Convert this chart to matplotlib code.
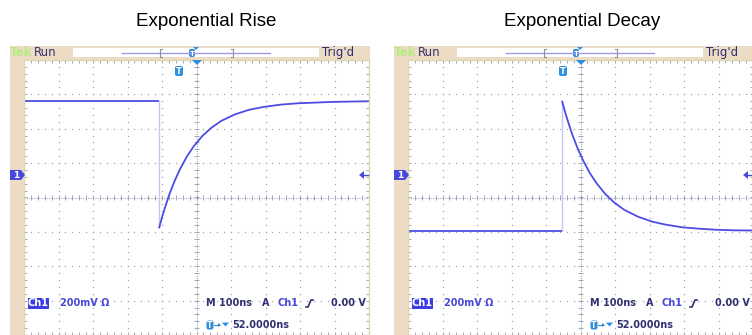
import numpy as np
import matplotlib
matplotlib.use("Agg")
import matplotlib.pyplot as plt
from matplotlib.patches import Rectangle, Polygon, FancyBboxPatch

W, H = 752, 335

titles = ["Exponential Rise", "Exponential Decay"]

# traces in screen divisions (x: -5..5, y: -4..4)
rise_pre_t = [-5.0, -1.08]
rise_pre_v = [2.80, 2.80]
rise_t = [-1.08, -0.98, -0.88, -0.78, -0.63, -0.48, -0.28, -0.08, 0.17, 0.42,
          0.72, 1.12, 1.52, 1.92, 2.42, 2.92, 3.42, 3.92, 4.42, 5.0]
rise_v = [-0.87, -0.51, -0.19, 0.11, 0.49, 0.82, 1.19, 1.49, 1.79, 2.02,
          2.23, 2.42, 2.55, 2.63, 2.70, 2.74, 2.76, 2.78, 2.79, 2.80]

decay_pre_t = [-5.0, -0.53]
decay_pre_v = [-0.98, -0.98]
decay_t = [-0.53, -0.43, -0.33, -0.23, -0.08, 0.07, 0.27, 0.47, 0.72, 0.97,
           1.27, 1.67, 2.07, 2.47, 2.97, 3.47, 3.97, 4.47, 5.0]
decay_v = [2.79, 2.43, 2.11, 1.81, 1.42, 1.09, 0.71, 0.41, 0.10, -0.14,
           -0.36, -0.56, -0.70, -0.79, -0.87, -0.91, -0.94, -0.955, -0.96]

traces = [(rise_pre_t, rise_pre_v, rise_t, rise_v),
          (decay_pre_t, decay_pre_v, decay_t, decay_v)]
title_x = [206, 582]

TAN = '#ecdcc6'
NAVY = '#303070'
BLUE = '#4848dc'
LBLUE = '#2f8fdf'
TRACE = '#4d4de6'
GRID = '#a4a4b8'

fig = plt.figure(figsize=(W / 100, H / 100), dpi=100)

bg = fig.add_axes([0, 0, 1, 1], zorder=0)
bg.set_xlim(0, W)
bg.set_ylim(H, 0)
bg.axis('off')

fg = fig.add_axes([0, 0, 1, 1], zorder=3)
fg.set_xlim(0, W)
fg.set_ylim(H, 0)
fg.axis('off')
fg.patch.set_alpha(0)


def t_icon(x, y, w=8, h=10, fs=6):
    fg.add_patch(FancyBboxPatch((x - w / 2, y - h / 2), w, h,
                                boxstyle="round,pad=0,rounding_size=2",
                                fc=LBLUE, ec='none'))
    fg.text(x, y + 0.5, "T", color='white', fontsize=fs, fontweight='bold',
            ha='center', va='center')


def graticule(ax):
    minor = np.arange(-5, 5.01, 0.2)
    minor_y = np.arange(-4, 4.01, 0.2)
    for gx in range(-4, 5):
        if gx == 0:
            continue
        ax.plot([gx] * len(minor_y), minor_y, ls='none', marker='s', ms=0.9,
                mec='none', mfc=GRID)
    for gy in range(-3, 4):
        if gy == 0:
            continue
        ax.plot(minor, [gy] * len(minor), ls='none', marker='s', ms=0.9,
                mec='none', mfc=GRID)
    ax.axhline(0, color=GRID, lw=0.8, ls=(0, (1, 1.2)))
    ax.axvline(0, color=GRID, lw=0.8, ls=(0, (1, 1.2)))
    ax.vlines(minor, -0.08, 0.08, color=GRID, lw=0.7)
    ax.hlines(minor_y, -0.08, 0.08, color=GRID, lw=0.7)
    ax.vlines(minor, 3.9, 4.0, color=GRID, lw=0.7)
    ax.vlines(minor, -4.0, -3.9, color=GRID, lw=0.7)
    ax.hlines(minor_y, -5.0, -4.9, color=GRID, lw=0.7)
    ax.hlines(minor_y, 4.9, 5.0, color=GRID, lw=0.7)


for i, (pre_t, pre_v, t, v) in enumerate(traces):
    ox = i * 384
    right = 370 if i == 0 else W

    # frame
    bg.add_patch(Rectangle((ox + 10, 46), right - ox - 10, 14, fc=TAN, ec='none'))
    bg.add_patch(Rectangle((ox + 10, 46), 14, H - 46, fc=TAN, ec='none'))
    bg.add_patch(Rectangle((ox + 73, 47.5), 246, 9.5, fc='white', ec='none'))
    if i == 0:
        bg.add_patch(Rectangle((368, 60), 2, H - 60, fc='#d8d0c4', ec='none'))

    fg.text(title_x[i], 21, titles[i],
            fontsize=13.5, family='Liberation Sans', ha='center', va='center')

    # plot area
    ax = fig.add_axes([(ox + 24) / W, 0, 345 / W, 275 / H], zorder=1)
    ax.set_xlim(-5, 5)
    ax.set_ylim(-4, 4)
    ax.set_xticks([])
    ax.set_yticks([])
    for s in ax.spines.values():
        s.set_color('#dcd8b0')
        s.set_linewidth(1)
    graticule(ax)
    ax.plot([pre_t[-1], t[0]], [pre_v[-1], v[0]], color='#c4c4f6', lw=1)
    ax.plot(pre_t, pre_v, color=TRACE, lw=1.3, solid_capstyle='butt')
    ax.plot(t, v, color=TRACE, lw=1.3)

    # status bar
    fg.text(ox + 10, 52.5, "Tek", color='#b4ec84', fontsize=8.5,
            fontweight='bold', va='center')
    fg.text(ox + 34, 52.5, "Run", color=NAVY, fontsize=8.5, va='center')
    fg.text(ox + 322, 52.5, "Trig'd", color=NAVY, fontsize=8.5, va='center')
    fg.plot([ox + 122, ox + 270], [52.5, 52.5], color='#9a9aee', lw=1)
    fg.plot([ox + 162, ox + 160, ox + 160, ox + 162], [48.5, 48.5, 56.5, 56.5],
            color='#909090', lw=0.8)
    fg.plot([ox + 231, ox + 233, ox + 233, ox + 231], [48.5, 48.5, 56.5, 56.5],
            color='#909090', lw=0.8)
    t_icon(ox + 192, 53, w=6, h=8, fs=5)
    fg.add_patch(Polygon([[ox + 193, 47], [ox + 199, 47], [ox + 196, 50]],
                         fc=LBLUE, ec='none'))

    # markers
    fg.add_patch(Polygon([[ox + 192, 60], [ox + 202, 60], [ox + 197, 65]],
                         fc=LBLUE, ec='none'))
    t_icon(ox + 179, 71)
    fg.add_patch(Polygon([[ox + 10, 170], [ox + 21, 170], [ox + 25, 175],
                          [ox + 21, 180], [ox + 10, 180]], fc=BLUE, ec='none'))
    fg.text(ox + 16, 175.5, "1", color='white', fontsize=6.5,
            fontweight='bold', ha='center', va='center')
    fg.add_patch(Polygon([[ox + 359, 175], [ox + 364, 171], [ox + 364, 179]],
                         fc=BLUE, ec='none'))
    fg.plot([ox + 363, ox + 368], [175, 175], color=BLUE, lw=1)

    # readouts
    ro = dict(fontsize=7, fontweight='bold', va='center')
    fg.add_patch(Rectangle((ox + 28, 297.5), 21, 11, fc='#3c3ce0', ec='none'))
    fg.text(ox + 38.5, 303.5, "Ch1", color='white', ha='center', **ro)
    fg.text(ox + 60, 303.5, "200mV \u03a9", color=BLUE, **ro)
    fg.text(ox + 206, 303.5, "M 100ns", color=NAVY, **ro)
    fg.text(ox + 262, 303.5, "A", color=NAVY, **ro)
    fg.text(ox + 278, 303.5, "Ch1", color=BLUE, **ro)
    fg.plot([ox + 306, ox + 308, ox + 311, ox + 313], [307, 307, 300, 300],
            color=NAVY, lw=1.2)
    fg.text(ox + 331, 303.5, "0.00 V", color=NAVY, **ro)
    t_icon(ox + 210, 325, w=7, h=9, fs=5.5)
    fg.plot([ox + 214, ox + 219], [325, 325], color=LBLUE, lw=0.8)
    fg.add_patch(Polygon([[ox + 218, 323], [ox + 221, 325], [ox + 218, 327]],
                         fc=LBLUE, ec='none'))
    fg.add_patch(Polygon([[ox + 222, 322.5], [ox + 229, 322.5], [ox + 225.5, 326.5]],
                         fc=LBLUE, ec='none'))
    fg.text(ox + 232, 325, "52.0000ns", color=NAVY, **ro)

fig.savefig("out.png", dpi=100)
